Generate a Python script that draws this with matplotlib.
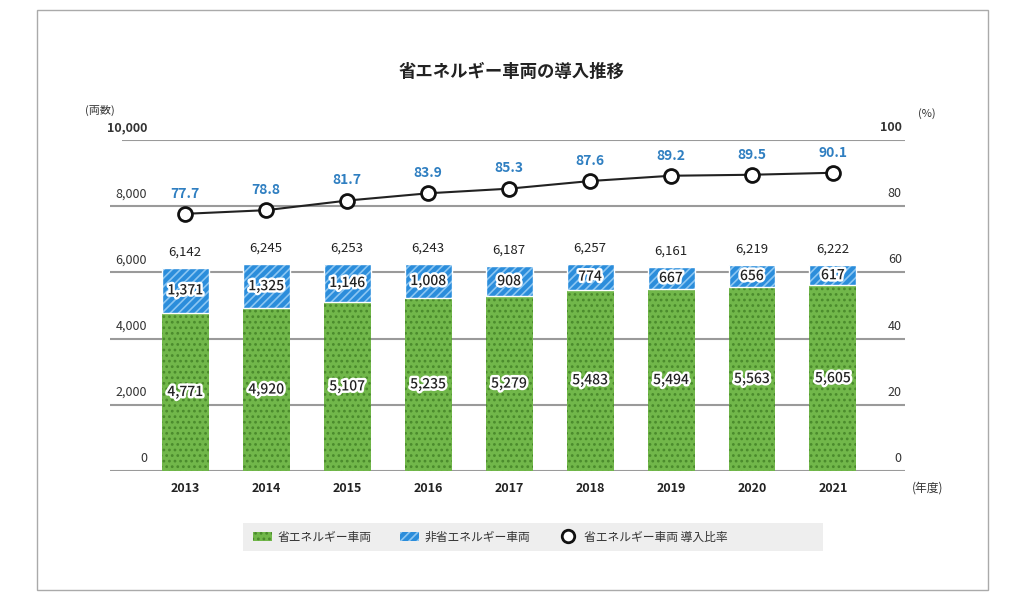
import matplotlib.pyplot as plt
import matplotlib.patheffects as pe
from matplotlib.patches import Rectangle, Patch
from matplotlib.lines import Line2D

plt.rcParams['font.family'] = ['Noto Sans CJK JP', 'DejaVu Sans']
plt.rcParams['hatch.linewidth'] = 1.2

years = ['2013', '2014', '2015', '2016', '2017', '2018', '2019', '2020', '2021']
eco = [4771, 4920, 5107, 5235, 5279, 5483, 5494, 5563, 5605]
non_eco = [1371, 1325, 1146, 1008, 908, 774, 667, 656, 617]
totals = [6142, 6245, 6253, 6243, 6187, 6257, 6161, 6219, 6222]
ratio = [77.7, 78.8, 81.7, 83.9, 85.3, 87.6, 89.2, 89.5, 90.1]

green = '#71b74a'
blue = '#2b8ddb'
label_blue = '#2f7fc1'

fig = plt.figure(figsize=(10.24, 6.11), dpi=100)
fig.patches.append(Rectangle((37 / 1024, 1 - 590 / 611), 951 / 1024, 580 / 611,
                             transform=fig.transFigure, fill=False,
                             edgecolor='#aaaaaa', linewidth=1))
fig.text(0.5, 1 - 72 / 611, '省エネルギー車両の導入推移', ha='center', va='center',
         fontsize=12.5, fontweight='bold', color='#222222')

ax = fig.add_axes([110 / 1024, 1 - 471 / 611, 795 / 1024, 331 / 611])
ax2 = ax.twinx()
x = list(range(len(years)))

x_lo, x_hi = -0.93, 8.89
ax.set_xlim(x_lo, x_hi)
ax.set_ylim(0, 10000)
ax2.set_ylim(0, 100)
for a in (ax, ax2):
    for s in a.spines.values():
        s.set_visible(False)
    a.set_yticks([])
ax.set_zorder(1)
ax2.set_zorder(2)
ax.patch.set_visible(False)

# gridlines
for v in range(0, 10001, 2000):
    start = -0.785 if v == 10000 else x_lo
    ax.hlines(v, start, x_hi, color='#9a9a9a', linewidth=1.5, zorder=0)

# y labels above gridlines
for v in range(0, 10001, 2000):
    ax.text(0.0465, v + 180, f'{v:,}', transform=ax.get_yaxis_transform(),
            ha='right', va='bottom', fontsize=9, color='#333333',
            fontweight='bold' if v == 10000 else 'normal')
for v in range(0, 101, 20):
    ax2.text(0.996, v + 1.8, f'{v}', transform=ax2.get_yaxis_transform(),
             ha='right', va='bottom', fontsize=9, color='#333333',
             fontweight='bold' if v == 100 else 'normal')

ax.set_xticks(x)
ax.set_xticklabels(years, fontsize=9, fontweight='bold', color='#222222')
ax.tick_params(axis='x', length=0, pad=8)

ax.bar(x, eco, width=0.58, color=green, edgecolor='#4a8a2c', linewidth=0,
       hatch='...', zorder=2)
ax.bar(x, non_eco, bottom=eco, width=0.58, color=blue, edgecolor='#8cc6f2',
       linewidth=0, hatch='////', zorder=2)
# thin white separator around the non-eco segment
ax.bar(x, non_eco, bottom=eco, width=0.58, fill=False, edgecolor='white',
       linewidth=1, zorder=2.5)

outline = [pe.withStroke(linewidth=3.5, foreground='white')]
for i in x:
    ax.text(i, eco[i] / 2, f'{eco[i]:,}', ha='center', va='center', fontsize=10,
            fontweight='medium', color='#222222', path_effects=outline, zorder=5)
    ax.text(i, eco[i] + non_eco[i] / 2, f'{non_eco[i]:,}', ha='center', va='center',
            fontsize=10, fontweight='medium', color='#222222', path_effects=outline,
            zorder=5)
    ax.text(i, totals[i] + 280, f'{totals[i]:,}', ha='center', va='bottom',
            fontsize=9.5, color='#222222', zorder=5)

ax2.plot(x, ratio, color='#222222', linewidth=1.5, marker='o', markersize=10,
         markerfacecolor='white', markeredgecolor='#111111', markeredgewidth=2,
         zorder=3)
for i in x:
    ax2.text(i, ratio[i] + 4, f'{ratio[i]}', ha='center', va='bottom', fontsize=10,
             fontweight='bold', color=label_blue)

fig.text(85 / 1024, 1 - 110 / 611, '(両数)', ha='left', va='center', fontsize=8,
         color='#333333')
fig.text(918 / 1024, 1 - 114 / 611, '(%)', ha='left', va='center', fontsize=8,
         color='#333333')
fig.text(912 / 1024, 1 - 488 / 611, '(年度)', ha='left', va='center', fontsize=8.5,
         color='#333333')

# legend
fig.patches.append(Rectangle((243 / 1024, 1 - 551 / 611), 580 / 1024, 28 / 611,
                             transform=fig.transFigure, facecolor='#eeeeee',
                             edgecolor='none'))
handles = [
    Patch(facecolor=green, edgecolor='#4a8a2c', linewidth=0, hatch='...'),
    Patch(facecolor=blue, edgecolor='#8cc6f2', linewidth=0, hatch='////'),
    Line2D([], [], linestyle='none', marker='o', markersize=9,
           markerfacecolor='white', markeredgecolor='#111111', markeredgewidth=2),
]
labels = ['省エネルギー車両', '非省エネルギー車両', '省エネルギー車両 導入比率']
fig.legend(handles, labels, loc='center', bbox_to_anchor=(490 / 1024, 1 - 537 / 611),
           ncol=3, frameon=False, fontsize=8.5, handlelength=1.6, handleheight=0.9,
           handletextpad=0.5, columnspacing=2.4, labelcolor='#333333')

fig.savefig('out.png', dpi=100)
